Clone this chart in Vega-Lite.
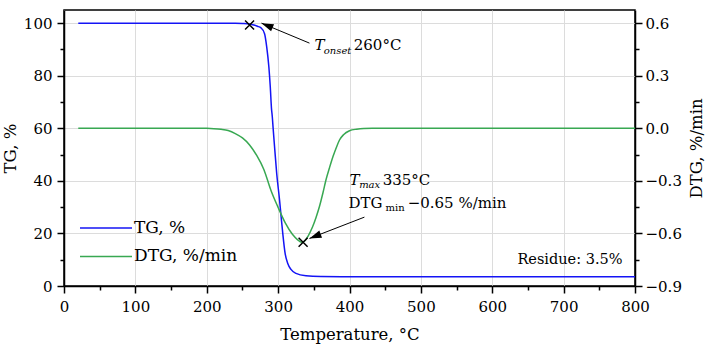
{
  "$schema": "https://vega.github.io/schema/vega-lite/v6.json",
  "width": 571,
  "height": 276,
  "autosize": {"type": "none"},
  "padding": {"left": 64, "top": 10, "right": 78, "bottom": 66},
  "background": "white",
  "config": {
    "font": "DejaVu Serif",
    "view": {"stroke": "black", "strokeWidth": 1.5},
    "axis": {
      "labelFont": "DejaVu Serif",
      "titleFont": "DejaVu Serif",
      "labelColor": "black",
      "titleColor": "black",
      "domainColor": "black",
      "tickColor": "black",
      "domainWidth": 1.5,
      "tickWidth": 1.5,
      "labelFontSize": 15,
      "labelFlush": false,
      "titleFontSize": 16.5,
      "titleFontWeight": "normal",
      "gridColor": "#dcdcdc",
      "gridWidth": 1
    },
    "legend": {
      "orient": "none",
      "legendX": 15,
      "legendY": 208,
      "symbolType": "stroke",
      "symbolSize": 2704,
      "symbolStrokeWidth": 1.5,
      "labelFont": "DejaVu Serif",
      "labelFontSize": 17,
      "labelColor": "black",
      "clipHeight": 20,
      "rowPadding": 8.4,
      "labelOffset": 1,
      "padding": 0
    }
  },
  "datasets": {
    "tg": [
      {"T": 20, "TG": 100}, {"T": 100, "TG": 100}, {"T": 200, "TG": 100},
      {"T": 240, "TG": 100}, {"T": 250, "TG": 99.9}, {"T": 260, "TG": 99.7},
      {"T": 266, "TG": 99.3}, {"T": 271, "TG": 98.8}, {"T": 276, "TG": 98.2},
      {"T": 281, "TG": 96.0}, {"T": 284, "TG": 91.0}, {"T": 287, "TG": 83.4},
      {"T": 289, "TG": 75.8}, {"T": 290.7, "TG": 67.5}, {"T": 291.8, "TG": 64.5},
      {"T": 293, "TG": 60}, {"T": 295, "TG": 53}, {"T": 298, "TG": 42.8},
      {"T": 302, "TG": 32.7}, {"T": 304.2, "TG": 26.4}, {"T": 306.5, "TG": 20},
      {"T": 309.8, "TG": 12.4}, {"T": 313.5, "TG": 8.6}, {"T": 318, "TG": 6.3},
      {"T": 325, "TG": 4.8}, {"T": 339, "TG": 3.9}, {"T": 360, "TG": 3.6},
      {"T": 400, "TG": 3.5}, {"T": 500, "TG": 3.5}, {"T": 600, "TG": 3.5},
      {"T": 700, "TG": 3.5}, {"T": 800, "TG": 3.5}
    ],
    "dtg": [
      {"T": 20, "DTG": 0}, {"T": 100, "DTG": 0}, {"T": 200, "DTG": 0},
      {"T": 210, "DTG": -0.002}, {"T": 220, "DTG": -0.006}, {"T": 230, "DTG": -0.013},
      {"T": 240, "DTG": -0.03}, {"T": 250, "DTG": -0.055}, {"T": 260, "DTG": -0.095},
      {"T": 270, "DTG": -0.155}, {"T": 280, "DTG": -0.235}, {"T": 290, "DTG": -0.355},
      {"T": 300, "DTG": -0.452}, {"T": 310, "DTG": -0.54}, {"T": 320, "DTG": -0.605},
      {"T": 327, "DTG": -0.635}, {"T": 333, "DTG": -0.65}, {"T": 338, "DTG": -0.64},
      {"T": 342, "DTG": -0.615}, {"T": 348, "DTG": -0.565}, {"T": 353, "DTG": -0.51},
      {"T": 358, "DTG": -0.445}, {"T": 363, "DTG": -0.365}, {"T": 367, "DTG": -0.295},
      {"T": 372, "DTG": -0.225}, {"T": 377, "DTG": -0.16}, {"T": 382, "DTG": -0.105},
      {"T": 386, "DTG": -0.067}, {"T": 392, "DTG": -0.035}, {"T": 400, "DTG": -0.014},
      {"T": 410, "DTG": -0.005}, {"T": 420, "DTG": -0.001}, {"T": 432, "DTG": 0},
      {"T": 500, "DTG": 0}, {"T": 600, "DTG": 0}, {"T": 700, "DTG": 0}, {"T": 800, "DTG": 0}
    ],
    "onset": [{"T": 260, "TG": 99.3}],
    "peak": [{"T": 335, "DTG": -0.65}],
    "arrows": [
      {"x1": 343.9, "y1": 92.4, "x2": 276.7, "y2": 100},
      {"x1": 420.9, "y1": 26.2, "x2": 343.9, "y2": 18.1}
    ],
    "head1": [{"T": 276.7, "TG": 100}],
    "head2": [{"T": 343.9, "TG": 18.1}],
    "italicT": [
      {"T": 350.9, "TG": 89.7, "label": "T"},
      {"T": 399.9, "TG": 38.6, "label": "T"}
    ],
    "italicSub": [
      {"T": 364.0, "TG": 88.4, "label": "onset"},
      {"T": 413.5, "TG": 37.4, "label": "max"}
    ],
    "plainSub": [
      {"T": 450.5, "TG": 28.5, "label": "min"}
    ],
    "plain": [
      {"T": 406.0, "TG": 89.7, "label": "260°C"},
      {"T": 446.5, "TG": 38.6, "label": "335°C"},
      {"T": 398.5, "TG": 29.8, "label": "DTG"},
      {"T": 481.5, "TG": 29.8, "label": "−0.65 %/min"}
    ],
    "residue": [{"T": 782.5, "TG": 8.4, "label": "Residue: 3.5%"}]
  },
  "layer": [
    {
      "data": {"name": "tg"},
      "mark": {"type": "line", "strokeWidth": 1.5, "interpolate": "monotone"},
      "encoding": {
        "x": {
          "field": "T", "type": "quantitative",
          "scale": {"domain": [0, 800], "nice": false},
          "axis": {
            "orient": "bottom", "values": [0, 100, 200, 300, 400, 500, 600, 700, 800],
            "format": "d", "grid": true, "tickSize": 7, "labelPadding": 6,
            "title": "Temperature, °C", "titlePadding": 12
          }
        },
        "y": {
          "field": "TG", "type": "quantitative",
          "scale": {"domain": [0, 105], "nice": false},
          "axis": {
            "orient": "left", "values": [0, 20, 40, 60, 80, 100],
            "format": "d", "grid": true, "tickSize": 7, "labelPadding": 5,
            "title": "TG, %", "titlePadding": 5
          }
        },
        "color": {
          "datum": "TG, %", "type": "nominal",
          "scale": {"domain": ["TG, %", "DTG, %/min"], "range": ["#1414f5", "#38a852"]},
          "legend": {"title": null}
        }
      }
    },
    {
      "data": {"name": "dtg"},
      "mark": {"type": "line", "strokeWidth": 1.5, "interpolate": "monotone"},
      "encoding": {
        "x": {"field": "T", "type": "quantitative", "scale": {"domain": [0, 800], "nice": false}, "axis": null},
        "y": {
          "field": "DTG", "type": "quantitative",
          "scale": {"domain": [-0.9, 0.675], "nice": false, "zero": false},
          "axis": {
            "orient": "right", "values": [-0.9, -0.6, -0.3, 0, 0.3, 0.6],
            "format": ".1f", "grid": false, "tickSize": 7, "labelPadding": 3,
            "title": "DTG, %/min", "titleAngle": 270, "titleBaseline": "top", "titlePadding": 7
          }
        },
        "color": {"datum": "DTG, %/min", "type": "nominal"}
      }
    },
    {
      "data": {"name": "onset"},
      "mark": {"type": "point", "shape": "M-1,-1L1,1M1,-1L-1,1", "size": 81, "filled": false, "stroke": "black", "strokeWidth": 1.5, "opacity": 1},
      "encoding": {
        "x": {
          "field": "T", "type": "quantitative", "scale": {"domain": [0, 800], "nice": false},
          "axis": {
            "orient": "bottom", "values": [50, 150, 250, 350, 450, 550, 650, 750],
            "labels": false, "domain": false, "grid": false, "tickSize": 4, "title": null
          }
        },
        "y": {
          "field": "TG", "type": "quantitative", "scale": {"domain": [0, 105], "nice": false},
          "axis": {
            "orient": "left", "values": [10, 30, 50, 70, 90],
            "labels": false, "domain": false, "grid": false, "tickSize": 4, "title": null
          }
        }
      }
    },
    {
      "data": {"name": "peak"},
      "mark": {"type": "point", "shape": "M-1,-1L1,1M1,-1L-1,1", "size": 81, "filled": false, "stroke": "black", "strokeWidth": 1.5, "opacity": 1},
      "encoding": {
        "x": {"field": "T", "type": "quantitative", "scale": {"domain": [0, 800], "nice": false}, "axis": null},
        "y": {
          "field": "DTG", "type": "quantitative",
          "scale": {"domain": [-0.9, 0.675], "nice": false, "zero": false},
          "axis": {
            "orient": "right", "values": [-0.75, -0.45, -0.15, 0.15, 0.45],
            "labels": false, "domain": false, "grid": false, "tickSize": 4, "title": null
          }
        }
      }
    },
    {
      "data": {"name": "arrows"},
      "mark": {"type": "rule", "color": "black", "strokeWidth": 1},
      "encoding": {
        "x": {"field": "x1", "type": "quantitative", "scale": {"domain": [0, 800], "nice": false}, "axis": null},
        "x2": {"field": "x2"},
        "y": {"field": "y1", "type": "quantitative", "scale": {"domain": [0, 105], "nice": false}, "axis": null},
        "y2": {"field": "y2"}
      }
    },
    {
      "data": {"name": "head1"},
      "mark": {"type": "point", "shape": "M0,0L-0.32,1L0.32,1Z", "size": 576, "filled": true, "color": "black", "opacity": 1, "angle": 292.6},
      "encoding": {
        "x": {"field": "T", "type": "quantitative", "scale": {"domain": [0, 800], "nice": false}, "axis": null},
        "y": {"field": "TG", "type": "quantitative", "scale": {"domain": [0, 105], "nice": false}, "axis": null}
      }
    },
    {
      "data": {"name": "head2"},
      "mark": {"type": "point", "shape": "M0,0L-0.32,1L0.32,1Z", "size": 576, "filled": true, "color": "black", "opacity": 1, "angle": 249.1},
      "encoding": {
        "x": {"field": "T", "type": "quantitative", "scale": {"domain": [0, 800], "nice": false}, "axis": null},
        "y": {"field": "TG", "type": "quantitative", "scale": {"domain": [0, 105], "nice": false}, "axis": null}
      }
    },
    {
      "data": {"name": "italicT"},
      "mark": {"type": "text", "align": "left", "baseline": "alphabetic", "font": "DejaVu Serif", "fontStyle": "italic", "fontSize": 15, "color": "black"},
      "encoding": {
        "x": {"field": "T", "type": "quantitative", "scale": {"domain": [0, 800], "nice": false}, "axis": null},
        "y": {"field": "TG", "type": "quantitative", "scale": {"domain": [0, 105], "nice": false}, "axis": null},
        "text": {"field": "label"}
      }
    },
    {
      "data": {"name": "italicSub"},
      "mark": {"type": "text", "align": "left", "baseline": "alphabetic", "font": "DejaVu Serif", "fontStyle": "italic", "fontSize": 10, "color": "black"},
      "encoding": {
        "x": {"field": "T", "type": "quantitative", "scale": {"domain": [0, 800], "nice": false}, "axis": null},
        "y": {"field": "TG", "type": "quantitative", "scale": {"domain": [0, 105], "nice": false}, "axis": null},
        "text": {"field": "label"}
      }
    },
    {
      "data": {"name": "plainSub"},
      "mark": {"type": "text", "align": "left", "baseline": "alphabetic", "font": "DejaVu Serif", "fontSize": 10, "color": "black"},
      "encoding": {
        "x": {"field": "T", "type": "quantitative", "scale": {"domain": [0, 800], "nice": false}, "axis": null},
        "y": {"field": "TG", "type": "quantitative", "scale": {"domain": [0, 105], "nice": false}, "axis": null},
        "text": {"field": "label"}
      }
    },
    {
      "data": {"name": "plain"},
      "mark": {"type": "text", "align": "left", "baseline": "alphabetic", "font": "DejaVu Serif", "fontSize": 15, "color": "black"},
      "encoding": {
        "x": {"field": "T", "type": "quantitative", "scale": {"domain": [0, 800], "nice": false}, "axis": null},
        "y": {"field": "TG", "type": "quantitative", "scale": {"domain": [0, 105], "nice": false}, "axis": null},
        "text": {"field": "label"}
      }
    },
    {
      "data": {"name": "residue"},
      "mark": {"type": "text", "align": "right", "baseline": "alphabetic", "font": "DejaVu Serif", "fontSize": 14.5, "color": "black"},
      "encoding": {
        "x": {"field": "T", "type": "quantitative", "scale": {"domain": [0, 800], "nice": false}, "axis": null},
        "y": {"field": "TG", "type": "quantitative", "scale": {"domain": [0, 105], "nice": false}, "axis": null},
        "text": {"field": "label"}
      }
    }
  ],
  "resolve": {
    "scale": {"y": "independent"},
    "axis": {"x": "independent", "y": "independent"}
  }
}
